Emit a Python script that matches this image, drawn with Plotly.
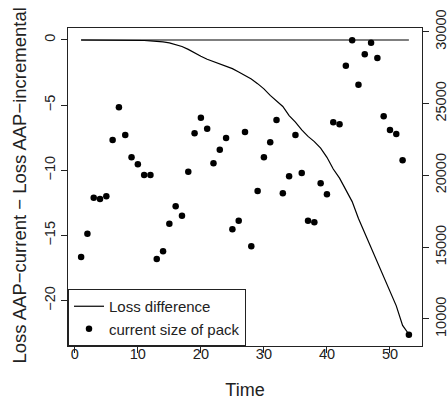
import plotly.graph_objects as go

time = list(range(1, 54))
loss_diff = [0, 0, 0, 0, 0, 0, 0, 0, 0, -0.02,
             -0.04, -0.07, -0.1, -0.15, -0.22, -0.35, -0.5, -0.72, -1.0, -1.25,
             -1.48, -1.65, -1.8, -2.0, -2.2, -2.45, -2.7, -3.0, -3.35, -3.75,
             -4.25, -4.7, -5.1, -5.8, -6.3, -6.9, -7.4, -7.8, -8.3, -9.0,
             -9.9, -10.6, -11.5, -12.4, -13.7, -14.8, -16.0, -17.1, -18.1, -19.3,
             -20.4, -21.9, -22.58]
pack_size = [14316, 15939, 18445, 18354, 18542, 22462, 24738, 22810, 21257, 20770,
             20025, 20025, 14177, 14713, 16635, 17846, 17192, 20255, 22928, 24015,
             23249, 20840, 21787, 22601, 16245, 16844, 23019, 15061, 18911, 21257,
             22302, 23854, 18751, 19935, 22810, 20165, 16844, 16732, 19447, 18682,
             23694, 23555, 27635, 29403, 26312, 28428, 29236, 28171, 24112, 23158,
             22880, 21049, 8907]
zero_x = [1, 53]
zero_y = [0, 0]
x_ticks = [0, 10, 20, 30, 40, 50]
left_ticks = [0, -5, -10, -15, -20]
right_ticks = [10000, 15000, 20000, 25000, 30000]

FONT = "Liberation Sans, Arial, sans-serif"
W, H = 447, 401
ML, MT, MR, MB = 68, 28, 25, 55
PW, PH = W - ML - MR, H - MT - MB

fig = go.Figure()
fig.add_trace(go.Scatter(x=zero_x, y=zero_y, mode="lines",
                         line=dict(color="black", width=1.2), showlegend=False,
                         hoverinfo="skip"))
fig.add_trace(go.Scatter(x=time, y=loss_diff, mode="lines", name="Loss difference",
                         line=dict(color="black", width=1.2)))
fig.add_trace(go.Scatter(x=time, y=pack_size, mode="markers", name="current size of pack",
                         marker=dict(color="black", size=6.5), yaxis="y2"))

axis_common = dict(showgrid=False, zeroline=False, ticks="outside", ticklen=6,
                   tickcolor="#222", tickwidth=1, automargin=False,
                   tickfont=dict(size=14.5, color="#222"))

fig.update_layout(
    width=W, height=H,
    margin=dict(l=ML, r=MR, t=MT, b=MB, autoexpand=False),
    paper_bgcolor="white", plot_bgcolor="white",
    font=dict(family=FONT, color="#222"),
    xaxis=dict(range=[-1.08, 55.08], tickvals=x_ticks, showline=True, mirror=True,
               linecolor="#222", linewidth=1, ticklabelstandoff=-11,
               title=dict(text="Time", font=dict(size=18), standoff=21), **axis_common),
    yaxis=dict(range=[-23.48, 0.92], tickvals=left_ticks, tickangle=-90,
               showline=True, mirror=True, linecolor="#222", linewidth=1, **axis_common),
    yaxis2=dict(range=[8120, 30258], tickvals=right_ticks, tickformat="d", tickangle=-90,
                overlaying="y", side="right", showline=False, **axis_common),
    legend=dict(x=0, y=0, xanchor="left", yanchor="bottom", bgcolor="white",
                bordercolor="#222", borderwidth=1, font=dict(size=15, color="#222"),
                tracegroupgap=0, itemwidth=30, traceorder="normal"),
    showlegend=True,
    hovermode=False,
    annotations=[dict(text="Loss AAP\u2212current \u2212 Loss AAP\u2212incremental",
                      textangle=-90, x=(19 - ML) / PW, y=(H - MB - 185.5) / PH,
                      xref="paper", yref="paper", xanchor="center", yanchor="middle",
                      showarrow=False, font=dict(size=18.5, color="#222"))],
)

fig.write_html(
    "out.html",
    config={"displayModeBar": False, "staticPlot": True},
    post_script="document.body.style.margin='0';document.body.style.overflow='hidden';",
)
